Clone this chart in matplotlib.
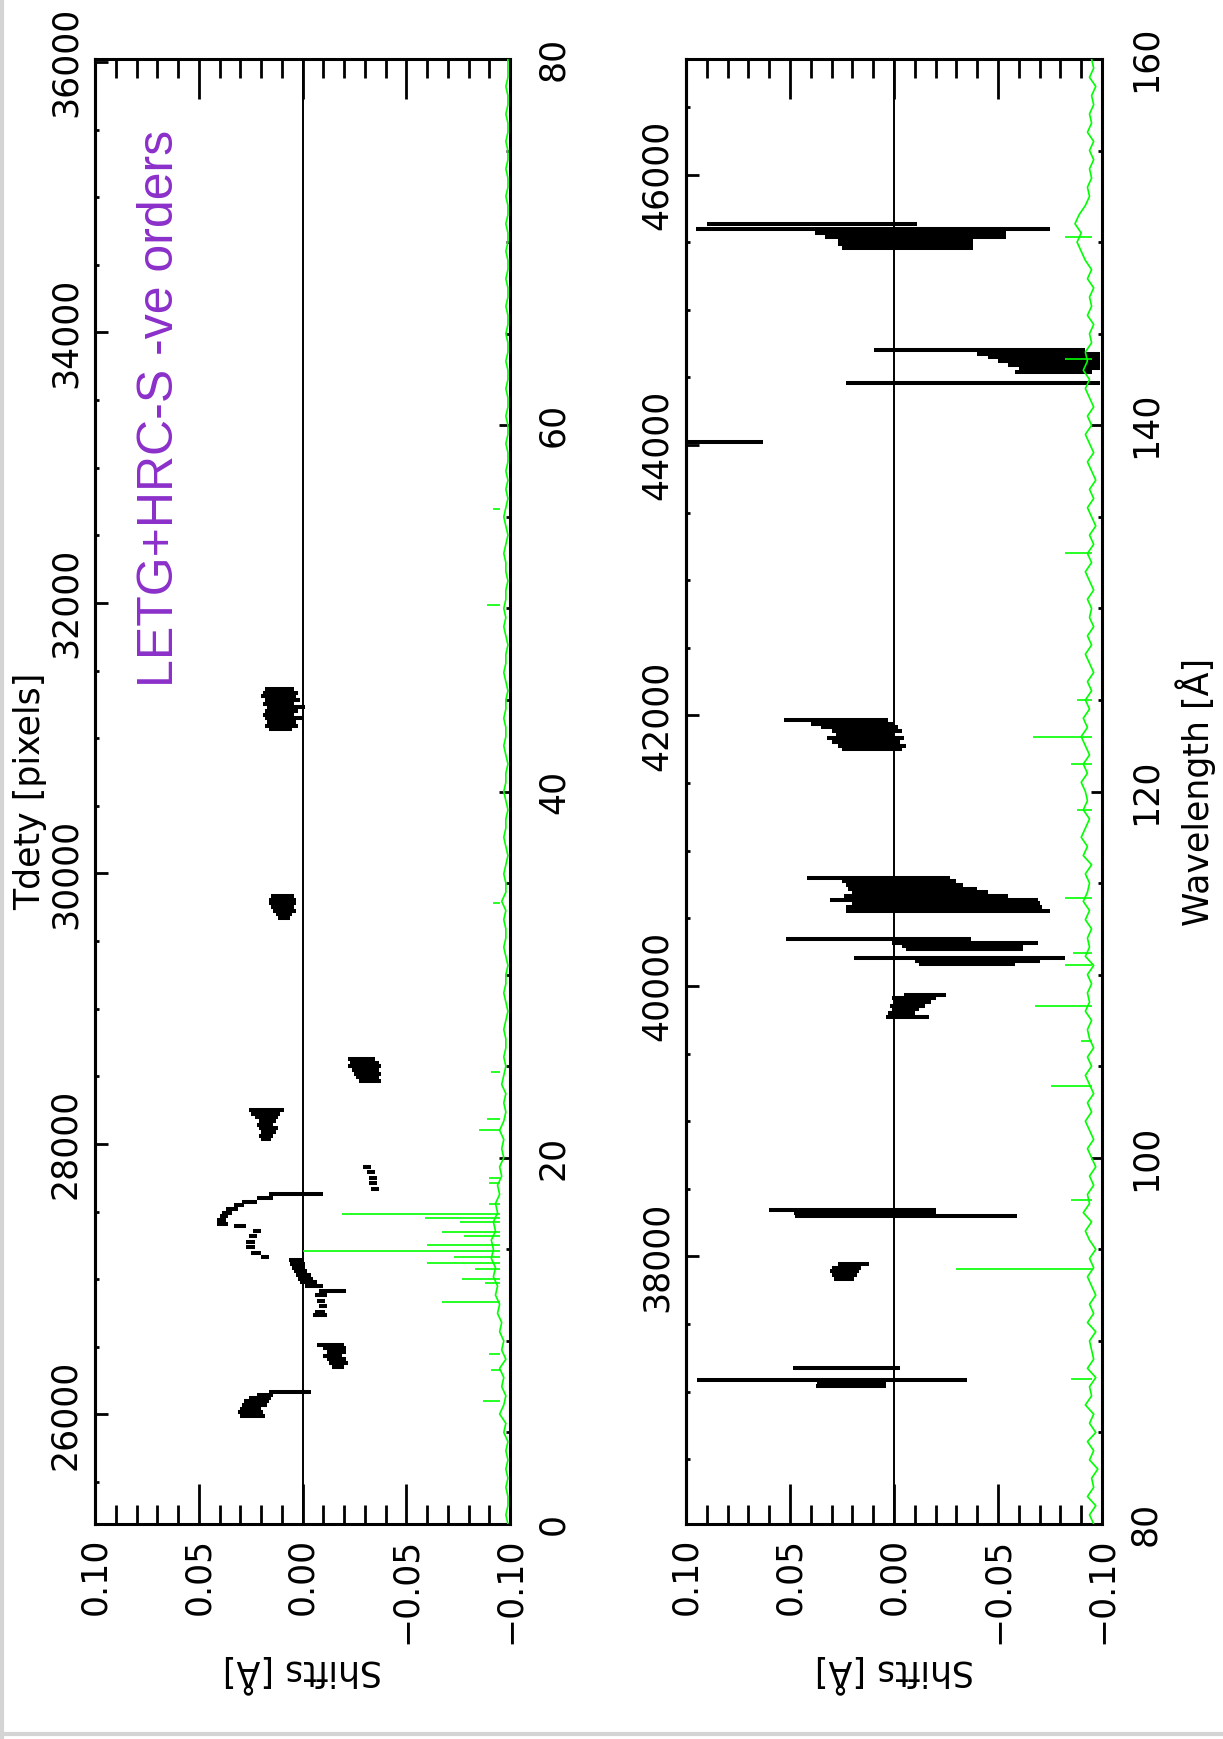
import numpy as np
import matplotlib
matplotlib.use("Agg")
import matplotlib.pyplot as plt
from matplotlib.lines import Line2D
from matplotlib.ticker import MultipleLocator, FixedLocator, FuncFormatter

plt.rcParams["font.family"] = ["DejaVu Sans"]

# Tdety [pixels] = TDETY_ZERO + TDETY_PER_A * wavelength
TDETY_ZERO = 25190.0
TDETY_PER_A = 135.4

left_tdety_ticks = [26000, 28000, 30000, 32000, 34000, 36000]
right_tdety_ticks = [38000, 40000, 42000, 44000, 46000]
left_wl_ticks = [0, 20, 40, 60, 80]
right_wl_ticks = [80, 100, 120, 140, 160]
shift_ticks = [0.10, 0.05, 0.0, -0.05, -0.10]

# black shift bars: (wavelength, shift_a, shift_b), 0-80 A panel
left_bars = [
    (5.9, 0.030, 0.018), (6.1, 0.031, 0.019), (6.3, 0.030, 0.020), (6.5, 0.029, 0.017),
    (6.7, 0.028, 0.016), (6.9, 0.026, 0.015), (7.05, 0.022, 0.014), (7.2, 0.016, -0.004),
    (8.6, -0.014, -0.020), (8.8, -0.013, -0.022), (9.0, -0.012, -0.021), (9.2, -0.010, -0.019),
    (9.4, -0.012, -0.021), (9.6, -0.010, -0.021), (9.8, -0.007, -0.020),
    (11.4, -0.005, -0.012), (11.6, -0.006, -0.011), (11.9, -0.008, -0.012), (12.2, -0.007, -0.011),
    (12.5, -0.006, -0.012), (12.7, -0.008, -0.021),
    (13.0, -0.001, -0.010), (13.2, 0.001, -0.007), (13.4, 0.002, -0.005), (13.6, 0.003, -0.004),
    (13.8, 0.004, -0.002), (14.0, 0.005, -0.001), (14.2, 0.006, -0.001), (14.4, 0.0065, -0.0005),
    (14.6, 0.020, 0.016), (14.8, 0.025, 0.020), (15.1, 0.027, 0.023), (15.4, 0.027, 0.023),
    (15.7, 0.026, 0.022), (16.0, 0.024, 0.020),
    (16.25, 0.033, 0.027),
    (16.4, 0.041, 0.036), (16.6, 0.041, 0.037), (16.8, 0.040, 0.036), (17.0, 0.039, 0.034),
    (17.2, 0.037, 0.031), (17.4, 0.033, 0.028), (17.6, 0.029, 0.022), (17.8, 0.022, 0.014),
    (18.0, 0.016, -0.010),
    (18.3, -0.033, -0.037), (18.6, -0.032, -0.036), (18.9, -0.032, -0.036), (19.2, -0.031, -0.035),
    (19.5, -0.029, -0.033),
    (21.0, 0.020, 0.015), (21.2, 0.021, 0.014), (21.4, 0.020, 0.013), (21.6, 0.021, 0.012),
    (21.8, 0.022, 0.014), (22.0, 0.021, 0.013), (22.2, 0.023, 0.012), (22.4, 0.025, 0.011),
    (22.6, 0.026, 0.009),
    (24.2, -0.027, -0.038), (24.4, -0.026, -0.037), (24.6, -0.025, -0.038), (24.8, -0.024, -0.037),
    (25.0, -0.022, -0.038), (25.2, -0.023, -0.037), (25.4, -0.022, -0.035),
    (33.1, 0.012, 0.006), (33.3, 0.013, 0.005), (33.5, 0.014, 0.003), (33.7, 0.015, 0.004),
    (33.9, 0.016, 0.003), (34.1, 0.016, 0.003), (34.3, 0.015, 0.004),
    (43.4, 0.016, 0.005), (43.6, 0.018, 0.002), (43.8, 0.017, 0.003), (44.0, 0.018, 0.000),
    (44.2, 0.019, 0.004), (44.4, 0.018, 0.002), (44.6, 0.017, -0.001), (44.8, 0.019, 0.004),
    (45.0, 0.018, 0.001), (45.2, 0.020, 0.003), (45.4, 0.019, 0.002), (45.6, 0.018, 0.004),
]

# black shift bars, 80-160 A panel
right_bars = [
    (87.55, 0.0375, 0.004), (87.75, 0.037, 0.004), (87.85, 0.0947, -0.035), (88.5, 0.0485, -0.003),
    (93.4, 0.029, 0.019), (93.6, 0.030, 0.018), (93.8, 0.031, 0.017), (94.0, 0.030, 0.016),
    (94.2, 0.027, 0.012),
    (96.8, 0.0476, -0.059), (97.0, 0.048, -0.020), (97.15, 0.060, -0.020),
    (107.7, 0.004, -0.017), (107.9, 0.003, -0.010), (108.1, 0.001, -0.012), (108.3, 0.002, -0.015),
    (108.5, 0.000, -0.018), (108.7, 0.001, -0.020), (108.9, -0.005, -0.025),
    (110.6, -0.012, -0.058), (110.75, -0.010, -0.070), (110.9, 0.019, -0.082),
    (111.4, -0.006, -0.062), (111.55, -0.004, -0.062), (111.7, 0.001, -0.069), (111.95, 0.052, -0.037),
    (113.5, 0.023, -0.075), (113.7, 0.023, -0.071), (113.9, 0.020, -0.070), (114.1, 0.031, -0.069),
    (114.3, 0.024, -0.055), (114.5, 0.020, -0.045), (114.7, 0.022, -0.040), (114.9, 0.023, -0.033),
    (115.1, 0.025, -0.030), (115.25, 0.042, -0.027),
    (122.3, 0.025, -0.004), (122.5, 0.027, -0.006), (122.7, 0.030, -0.003), (122.9, 0.032, -0.005),
    (123.1, 0.028, 0.000), (123.3, 0.030, -0.004), (123.5, 0.035, -0.002), (123.7, 0.040, 0.000),
    (123.9, 0.053, 0.003),
    (139.1, 0.0995, 0.063),
    (142.3, 0.023, -0.099),
    (142.9, -0.058, -0.095), (143.1, -0.060, -0.099), (143.3, -0.055, -0.099), (143.5, -0.050, -0.099),
    (143.7, -0.045, -0.099), (143.9, -0.040, -0.099), (144.1, 0.0095, -0.092),
    (149.7, 0.025, -0.038), (149.9, 0.027, -0.038), (150.1, 0.027, -0.038), (150.3, 0.033, -0.054),
    (150.5, 0.038, -0.054), (150.7, 0.095, -0.075), (151.0, 0.090, -0.011),
]

# green spectrum baseline, sampled every 0.5 A
left_green_shift = [
    -0.099, -0.098, -0.099, -0.099, -0.098, -0.099, -0.098, -0.099, -0.098, -0.099,
    -0.097, -0.098, -0.095, -0.097, -0.098, -0.096, -0.097, -0.095, -0.098, -0.096,
    -0.097, -0.095, -0.096, -0.094, -0.095, -0.093, -0.094, -0.092, -0.093, -0.091,
    -0.092, -0.091, -0.093, -0.092, -0.094, -0.093, -0.095, -0.094, -0.096, -0.095,
    -0.097, -0.096, -0.097, -0.095, -0.097, -0.098, -0.097, -0.098, -0.096, -0.097,
    -0.098, -0.097, -0.098, -0.098, -0.097, -0.098, -0.099, -0.098, -0.097, -0.098,
    -0.098, -0.099, -0.098, -0.097, -0.098, -0.098, -0.097, -0.098, -0.096, -0.098,
    -0.098, -0.097, -0.098, -0.099, -0.098, -0.097, -0.098, -0.098, -0.099, -0.098,
    -0.097, -0.098, -0.098, -0.099, -0.098, -0.097, -0.098, -0.098, -0.097, -0.098,
    -0.098, -0.099, -0.098, -0.097, -0.098, -0.098, -0.099, -0.098, -0.097, -0.098,
    -0.097, -0.098, -0.098, -0.099, -0.098, -0.098, -0.097, -0.098, -0.099, -0.098,
    -0.097, -0.098, -0.099, -0.098, -0.099, -0.098, -0.099, -0.099, -0.098, -0.099,
    -0.099, -0.098, -0.099, -0.099, -0.098, -0.099, -0.099, -0.098, -0.099, -0.099,
    -0.098, -0.099, -0.099, -0.098, -0.099, -0.099, -0.098, -0.099, -0.099, -0.098,
    -0.099, -0.099, -0.098, -0.099, -0.099, -0.098, -0.099, -0.099, -0.098, -0.099,
    -0.099, -0.098, -0.099, -0.099, -0.098, -0.099, -0.099, -0.098, -0.099, -0.099,
    -0.099,
]
right_green_shift = [
    -0.096, -0.094, -0.097, -0.093, -0.096, -0.095, -0.098, -0.094, -0.096, -0.093,
    -0.097, -0.094, -0.096, -0.092, -0.095, -0.094, -0.097, -0.093, -0.096, -0.095,
    -0.094, -0.097, -0.093, -0.096, -0.094, -0.097, -0.095, -0.093, -0.096, -0.094,
    -0.097, -0.094, -0.092, -0.095, -0.091, -0.094, -0.093, -0.096, -0.094, -0.097,
    -0.095, -0.093, -0.096, -0.094, -0.092, -0.095, -0.093, -0.096, -0.094, -0.092,
    -0.095, -0.093, -0.096, -0.094, -0.093, -0.095, -0.092, -0.094, -0.093, -0.095,
    -0.093, -0.096, -0.092, -0.094, -0.093, -0.095, -0.092, -0.094, -0.091, -0.093,
    -0.094, -0.092, -0.095, -0.091, -0.093, -0.090, -0.092, -0.094, -0.091, -0.093,
    -0.092, -0.090, -0.093, -0.091, -0.094, -0.092, -0.090, -0.093, -0.091, -0.094,
    -0.092, -0.095, -0.093, -0.096, -0.094, -0.092, -0.095, -0.093, -0.096, -0.094,
    -0.095, -0.093, -0.096, -0.094, -0.092, -0.095, -0.093, -0.096, -0.094, -0.097,
    -0.095, -0.093, -0.096, -0.094, -0.097, -0.095, -0.093, -0.096, -0.094, -0.092,
    -0.095, -0.093, -0.096, -0.094, -0.092, -0.094, -0.091, -0.093, -0.092, -0.095,
    -0.094, -0.096, -0.093, -0.095, -0.094, -0.096, -0.093, -0.095, -0.092, -0.090,
    -0.088, -0.090, -0.087, -0.089, -0.092, -0.094, -0.093, -0.095, -0.094, -0.096,
    -0.094, -0.096, -0.093, -0.095, -0.094, -0.096, -0.095, -0.097, -0.094, -0.096,
    -0.095,
]
left_green_wl = np.arange(0.0, 80.01, 0.5)
right_green_wl = np.arange(80.0, 160.01, 0.5)

# narrow emission lines in the spectrum: wavelength and peak (in shift units)
left_spike_wl = [6.7, 8.4, 9.3, 12.1, 13.15, 13.4, 13.9, 14.25, 14.6, 14.9, 15.25, 15.7,
                 15.95, 16.5, 16.7, 16.95, 17.5, 18.6, 18.9, 21.5, 22.1, 24.7, 33.9, 50.2, 55.4]
left_spike_tip = [-0.087, -0.091, -0.090, -0.067, -0.088, -0.077, -0.083, -0.060, -0.073, 0.000,
                  -0.060, -0.078, -0.067, -0.076, -0.059, -0.019, -0.090, -0.090, -0.090,
                  -0.085, -0.089, -0.091, -0.092, -0.089, -0.092]
right_spike_wl = [87.9, 93.9, 97.7, 103.9, 106.4, 108.3, 110.5, 111.2, 114.2, 119.0,
                  121.5, 123.0, 125.0, 133.0, 143.6, 150.3]
right_spike_tip = [-0.085, -0.030, -0.085, -0.0755, -0.090, -0.068, -0.082, -0.086, -0.082,
                   -0.088, -0.085, -0.067, -0.088, -0.082, -0.082, -0.082]

SPIKE_BASE = -0.095
GREEN = "#00ff00"
PURPLE = "#8b2fc9"
TICK_FS = 25


def to_tdety(w):
    return TDETY_ZERO + TDETY_PER_A * np.asarray(w)


def from_tdety(t):
    return (np.asarray(t) - TDETY_ZERO) / TDETY_PER_A


def shift_fmt(v, _pos):
    if abs(v) < 1e-9:
        v = 0.0
    return f"{v:.2f}".replace("-", "\u2212")


def setup_panel(ax, wl_lim, wl_ticks, tdety_ticks, tdety_label, wl_label):
    ax.set_xlim(0.10, -0.10)
    ax.set_ylim(*wl_lim)
    ax.axvline(0.0, color="black", lw=1.4, zorder=1)
    for sp in ax.spines.values():
        sp.set_linewidth(2.2)

    ax.xaxis.set_major_locator(FixedLocator(shift_ticks))
    ax.xaxis.set_minor_locator(MultipleLocator(0.01))
    ax.xaxis.set_major_formatter(FuncFormatter(shift_fmt))
    ax.tick_params(axis="x", which="both", direction="in", top=True, bottom=True,
                   width=2, labelsize=TICK_FS, pad=10, labelrotation=90)
    ax.tick_params(axis="x", which="major", length=29)
    ax.tick_params(axis="x", which="minor", length=14)
    ax.set_xlabel("Shifts [Å]", fontsize=TICK_FS, rotation=180, labelpad=6)

    ax.yaxis.set_major_locator(FixedLocator(wl_ticks))
    ax.yaxis.set_minor_locator(MultipleLocator(5))
    ax.tick_params(axis="y", which="both", direction="in", left=False, right=True,
                   labelleft=False, labelright=True, labelrotation=90,
                   labelsize=TICK_FS, pad=19, width=2)
    ax.tick_params(axis="y", which="major", length=8)
    ax.tick_params(axis="y", which="minor", length=3)
    for t in ax.yaxis.get_major_ticks():
        t.label2.set_va("center")
    if wl_label:
        ax.yaxis.set_label_position("right")
        ax.set_ylabel("Wavelength [Å]", fontsize=TICK_FS, rotation=90, labelpad=9)

    sec = ax.secondary_yaxis("left", functions=(to_tdety, from_tdety))
    sec.yaxis.set_major_locator(FixedLocator(tdety_ticks))
    sec.yaxis.set_minor_locator(MultipleLocator(500))
    sec.tick_params(which="both", direction="in", labelrotation=90,
                    labelsize=TICK_FS, pad=9, width=2)
    sec.tick_params(which="major", length=9)
    sec.tick_params(which="minor", length=3)
    sec.spines["left"].set_linewidth(2.2)
    for t in sec.yaxis.get_major_ticks():
        t.label1.set_va("center")
    if tdety_label:
        sec.set_ylabel("Tdety [pixels]", fontsize=TICK_FS, labelpad=1)


def draw_panel(ax, bars, green_wl, green_shift, spike_wl, spike_tip):
    wl, a, b = zip(*bars)
    ax.hlines(wl, a, b, colors="black", lw=2.9, zorder=2)
    ax.plot(green_shift, green_wl, color=GREEN, lw=1.2, zorder=3)
    ax.hlines(spike_wl, SPIKE_BASE, spike_tip, colors=GREEN, lw=1.2, zorder=3)


fig = plt.figure(figsize=(12.23, 17.39), dpi=100)
W, H = 1223.0, 1739.0
ax_left = fig.add_axes([95 / W, 1 - 1524 / H, 415 / W, 1465 / H])
ax_right = fig.add_axes([686 / W, 1 - 1524 / H, 416 / W, 1465 / H])

draw_panel(ax_left, left_bars, left_green_wl, left_green_shift, left_spike_wl, left_spike_tip)
draw_panel(ax_right, right_bars, right_green_wl, right_green_shift, right_spike_wl, right_spike_tip)

setup_panel(ax_left, (0, 80), left_wl_ticks, left_tdety_ticks, tdety_label=True, wl_label=False)
setup_panel(ax_right, (80, 160), right_wl_ticks, right_tdety_ticks, tdety_label=False, wl_label=True)

ax_left.text(0.0687, 45.7, "LETG+HRC-S -ve orders", rotation=90, ha="center", va="bottom",
             color=PURPLE, fontsize=36, family=["Liberation Sans", "DejaVu Sans"])

# faint scan border on the left and bottom edges
fig.add_artist(Line2D([0.002, 0.002], [0.0, 1.0], transform=fig.transFigure,
                      color="#d4d4d4", lw=3))
fig.add_artist(Line2D([0.0, 1.0], [0.003, 0.003], transform=fig.transFigure,
                      color="#d4d4d4", lw=3))

fig.savefig("out.png", dpi=100)
